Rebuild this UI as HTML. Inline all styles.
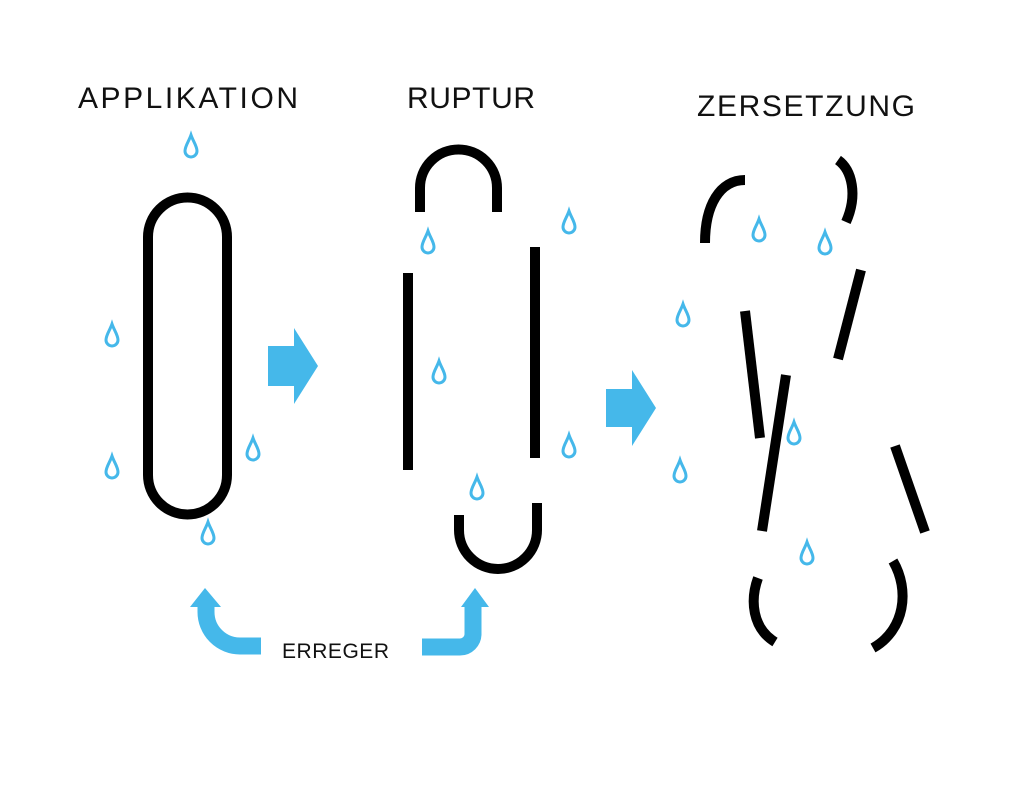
<!DOCTYPE html>
<html><head><meta charset="utf-8"><style>
html,body{margin:0;padding:0;background:#fff;}
svg{display:block;}
text{font-family:"Liberation Sans",sans-serif;fill:#111;}
</style></head><body>
<svg width="1029" height="787" viewBox="0 0 1029 787" xmlns="http://www.w3.org/2000/svg">
<defs>
<path id="d" d="M0 -13 C-2 -7 -6 -2 -6 3 A6 6 0 0 0 6 3 C6 -2 2 -7 0 -13Z" fill="none" stroke="#45b8ea" stroke-width="3"/>
</defs>
<text x="78" y="108" font-size="30" textLength="220" lengthAdjust="spacing">APPLIKATION</text>
<text x="407" y="108" font-size="30" textLength="128" lengthAdjust="spacing">RUPTUR</text>
<text x="697" y="116" font-size="30" textLength="218" lengthAdjust="spacing">ZERSETZUNG</text>
<text x="282" y="658" font-size="21" textLength="107" lengthAdjust="spacing">ERREGER</text>

<g fill="none" stroke="#000" stroke-width="10" stroke-linecap="butt">
<path d="M148 237 A39.5 39.5 0 0 1 227 237 V475 A39.5 39.5 0 0 1 148 475 Z"/>
<path d="M420 212 V188 A38 38 0 0 1 497 188 V212"/>
<path d="M408 273 V470"/>
<path d="M535 247 V458"/>
<path d="M459 515 V530 A39 39 0 0 0 537 530 V503"/>
<path d="M705 243 C705 205 720 180 745 180"/>
<path d="M838 160 C852 170 858 195 846 222"/>
<path d="M861 270 L838 359"/>
<path d="M745 311 L760 438"/>
<path d="M786 375 L762 531"/>
<path d="M895 446 L925 532"/>
<path d="M758 578 C750 600 752 628 775 642"/>
<path d="M893 561 C910 590 905 630 873 648"/>
</g>

<g fill="#45b8ea">
<path d="M268 346 H294 V328 L318 366 L294 404 V386 H268Z"/>
<path d="M606 389 H632 V370 L656 408 L632 446 V427 H606Z"/>
<path d="M190 607 L205 588 L221 607Z"/>
<path d="M461 607 L475 588 L489 607Z"/>
</g>
<g fill="none" stroke="#45b8ea" stroke-width="17">
<path d="M206 605 V612 A34 34 0 0 0 240 646 H261"/>
<path d="M422 647 H460 A13 13 0 0 0 473 634 V605"/>
</g>

<g>
<use href="#d" x="191" y="148"/>
<use href="#d" x="112" y="337"/>
<use href="#d" x="112" y="469"/>
<use href="#d" x="253" y="451"/>
<use href="#d" x="208" y="535"/>
<use href="#d" x="428" y="244"/>
<use href="#d" x="569" y="224"/>
<use href="#d" x="439" y="374"/>
<use href="#d" x="569" y="448"/>
<use href="#d" x="477" y="490"/>
<use href="#d" x="683" y="317"/>
<use href="#d" x="759" y="232"/>
<use href="#d" x="825" y="245"/>
<use href="#d" x="680" y="473"/>
<use href="#d" x="794" y="435"/>
<use href="#d" x="807" y="555"/>
</g>
</svg>
</body></html>
